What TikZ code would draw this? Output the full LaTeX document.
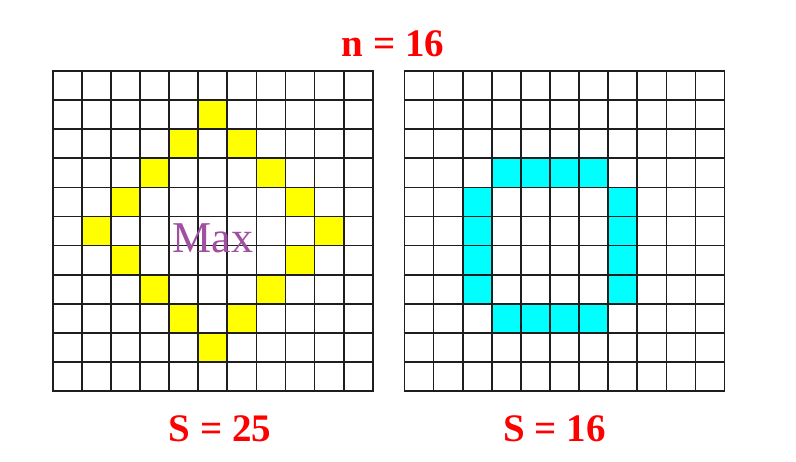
\documentclass[tikz,border=0pt]{standalone}
\usepackage{fontspec}
\setmainfont{Liberation Serif}
\definecolor{sumred}{RGB}{255,0,0}
\definecolor{maxpurple}{RGB}{160,80,160}
\definecolor{gridline}{RGB}{30,30,30}
\definecolor{diamondyellow}{RGB}{255,255,0}
\definecolor{squarecyan}{RGB}{0,255,255}
\usetikzlibrary{positioning}

\begin{document}
\begin{tikzpicture}[x=1pt, y=-1pt,
    valuelabel/.style={anchor=base, text=sumred, font=\fontsize{39}{44}\selectfont\bfseries, inner sep=0pt},
    gridlines/.style={draw=gridline, line width=1.7pt, line cap=rect},
    diamondcell/.style={fill=diamondyellow},
    squarecell/.style={fill=squarecyan}
]
\useasboundingbox (0,0) rectangle (796,462);

% left board: diamond of distance 4 around the centre
\begin{scope}[shift={(52.7,71)}, x=29.1pt, y=-29.1pt]
  \foreach \c/\r in {5/1, 4/2, 6/2, 3/3, 7/3, 2/4, 8/4, 1/5, 9/5, 2/6, 8/6, 3/7, 7/7, 4/8, 6/8, 5/9}
    \fill[diamondcell] (\c,\r) rectangle ++(1,1);
  \foreach \i in {0,...,11}
    \draw[gridlines] (\i,0) -- (\i,11) (0,\i) -- (11,\i);
\end{scope}

% right board: square ring
\begin{scope}[shift={(404.5,71)}, x=29.1pt, y=-29.1pt]
  \foreach \k in {3,...,6} {
    \fill[squarecell] (\k,3) rectangle ++(1,1);
    \fill[squarecell] (\k,8) rectangle ++(1,1);
  }
  \foreach \k in {4,...,7} {
    \fill[squarecell] (2,\k) rectangle ++(1,1);
    \fill[squarecell] (7,\k) rectangle ++(1,1);
  }
  \foreach \i in {0,...,11}
    \draw[gridlines] (\i,0) -- (\i,11) (0,\i) -- (11,\i);
\end{scope}

\node[valuelabel] (title) at (393,56.7) {n = 16};
\node[anchor=base, text=maxpurple, font=\fontsize{44}{50}\selectfont, inner sep=0pt] (maxlabel) at (213,252.7) {Max};
\node[valuelabel] (scoreleft) at (220,441.7) {S = 25};
\node[valuelabel] (scoreright) at (554.5,441.7) {S = 16};
\end{tikzpicture}
\end{document}
